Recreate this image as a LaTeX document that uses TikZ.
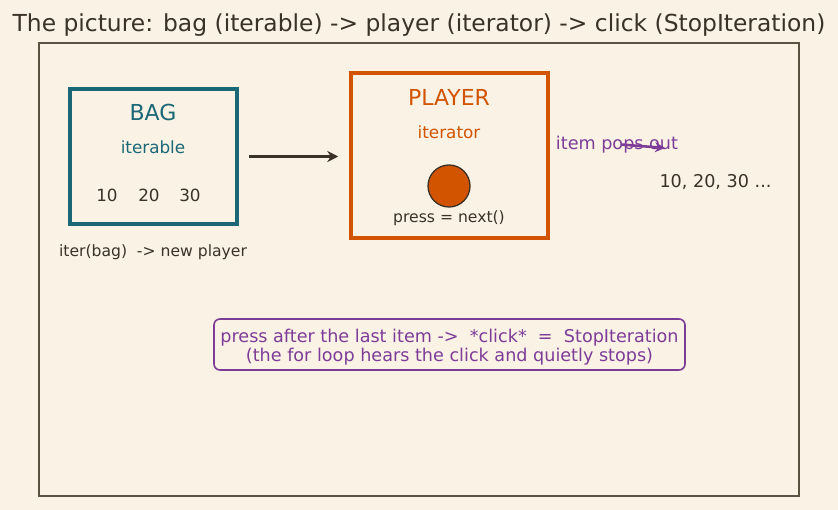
\documentclass[tikz,border=0pt]{standalone}
\usepackage{fontspec}
\setmainfont{DejaVu Sans}
\usetikzlibrary{arrows.meta,positioning}
\definecolor{cream}{RGB}{250,242,228}
\definecolor{inkdark}{RGB}{59,49,39}
\definecolor{framegray}{RGB}{92,82,66}
\definecolor{bagteal}{RGB}{26,104,118}
\definecolor{playerorange}{RGB}{211,84,0}
\definecolor{clickpurple}{RGB}{125,60,152}

\begin{document}
\begin{tikzpicture}[x=1pt,y=-1pt,
  every node/.style={inner sep=0pt,text=inkdark},
  fsz/.style={font=\fontsize{#1}{#1}\selectfont},
  bagbox/.style={draw=bagteal,line width=3.5pt,minimum width=167pt,minimum height=135pt},
  playerbox/.style={draw=playerorange,line width=3.5pt,minimum width=197pt,minimum height=165pt},
  notebox/.style={draw=clickpurple,line width=1.6pt,rounded corners=6pt,align=center,
    minimum width=471pt,minimum height=51pt,text=clickpurple,font=\fontsize{17.6}{21}\selectfont},
  flow/.style={-{Stealth[length=11pt,width=11pt]},line width=3pt,draw=inkdark}]
  % page and frame
  \fill[cream] (0,0) rectangle (838,510);
  \useasboundingbox (0,0) rectangle (838,510);
  \draw[framegray,line width=1.3pt] (39,43) rectangle (799,496);
  \node[fsz=23.4] (title) at (419,25)
    {The picture: bag (iterable) -> player (iterator) -> click (StopIteration)};

  % the bag
  \node[bagbox] (bag) at (153.5,156.5) {};
  \node[fsz=22,text=bagteal] (bagname) at (153,112) {BAG};
  \node[fsz=16.8,text=bagteal] (bagkind) at (153,147.5) {iterable};
  \node[fsz=16.8] (ten) at (107,195) {10};
  \node[fsz=16.8] (twenty) at (149,195) {20};
  \node[fsz=16.8] (thirty) at (190,195) {30};
  \node[fsz=15.6] (itercall) at (153,252) {iter(bag)\ \ -> new player};

  % the player
  \node[playerbox] (player) at (449.5,155.5) {};
  \node[fsz=22,text=playerorange] (playername) at (449,97) {PLAYER};
  \node[fsz=16.8,text=playerorange] (playerkind) at (449,132.5) {iterator};
  \node[circle,fill=playerorange,draw=inkdark,line width=1.3pt,minimum size=42pt] (button) at (449,186) {};
  \node[fsz=15.6] (presslabel) at (449,218) {press = next()};
  \draw[flow,shorten <=10pt,shorten >=11pt] (bag.east) -- (bag.east -| player.west);

  % items coming out
  \node[fsz=17.6,text=clickpurple] (pops) at (617,145) {item pops out};
  \coordinate (popstart) at (621,144.5);
  \coordinate (popend) at (665,148);
  \draw[-{Stealth[length=10pt,width=10pt]},line width=2.6pt,clickpurple] (popstart) -- (popend);
  \node[fsz=17.6] (items) at (715.5,182) {10, 20, 30 ...};

  % the click
  \node[notebox] (note) at (449.5,344.5) {};
  \node[fsz=17.6,text=clickpurple,align=center] (notetext) at (449.5,347)
    {press after the last item ->\ \ *click*\ \ =\ \ StopIteration\\[1pt](the for loop hears the click and quietly stops)};
\end{tikzpicture}
\end{document}
